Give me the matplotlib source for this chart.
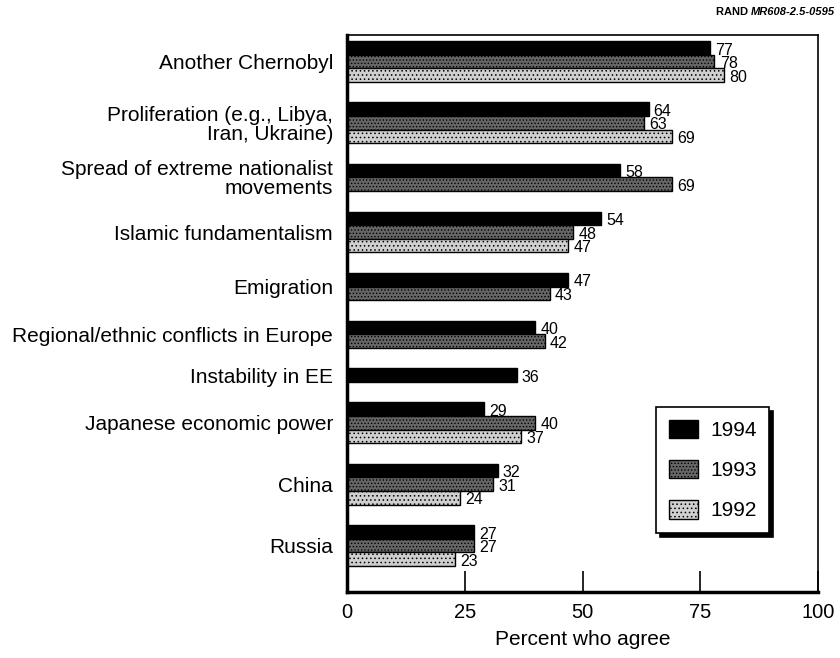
import matplotlib.pyplot as plt
from matplotlib.patches import Patch

plt.rcParams['font.family'] = ['Liberation Sans', 'DejaVu Sans']
plt.rcParams['hatch.linewidth'] = 0.6

categories = [
    'Another Chernobyl',
    'Proliferation (e.g., Libya,\nIran, Ukraine)',
    'Spread of extreme nationalist\nmovements',
    'Islamic fundamentalism',
    'Emigration',
    'Regional/ethnic conflicts in Europe',
    'Instability in EE',
    'Japanese economic power',
    'China',
    'Russia',
]
v1994 = [77, 64, 58, 54, 47, 40, 36, 29, 32, 27]
v1993 = [78, 63, 69, 48, 43, 42, None, 40, 31, 27]
v1992 = [80, 69, None, 47, None, None, None, 37, 24, 23]

years = ['1994', '1993', '1992']
series = [v1994, v1993, v1992]
faces = ['black', '#666666', '#cfcfcf']
hatches = [None, '.....', '....']

fig = plt.figure(figsize=(8.4, 6.58), dpi=100)
ax = fig.add_axes([0.413, 0.1003, 0.561, 0.8465])

gap = 1.5
pos = 0.0
centers = []
for i in range(len(categories)):
    ys = []
    for s, vals in enumerate(series):
        v = vals[i]
        if v is None:
            continue
        ax.barh(pos, v, height=1.0, color=faces[s], edgecolor='black',
                linewidth=1.0, hatch=hatches[s])
        ax.text(v + 1.1, pos + 0.15, str(v), va='center', ha='left', fontsize=11.5)
        ys.append(pos)
        pos += 1
    centers.append(sum(ys) / len(ys))
    pos += gap

ax.set_ylim(pos - gap - 0.5 + 1.9, -0.95)
ax.set_xlim(0, 100)

ax.set_yticks(centers)
ax.set_yticklabels(categories, fontsize=15, linespacing=1.0)
ax.tick_params(axis='y', length=0, pad=10)

ax.set_xticks([0, 25, 50, 75, 100])
ax.set_xticklabels(['0', '25', '50', '75', '100'], fontsize=14.5)
ax.tick_params(axis='x', direction='in', length=15, width=1.2, pad=8)
ax.set_xlabel('Percent who agree', fontsize=15, labelpad=6)

for side, lw in [('left', 2.5), ('bottom', 2.5), ('top', 1.2), ('right', 1.2)]:
    ax.spines[side].set_linewidth(lw)

handles = [Patch(facecolor=faces[s], edgecolor='black', hatch=hatches[s], label=years[s])
           for s in range(3)]
leg = ax.legend(handles=handles, loc='lower left', bbox_to_anchor=(0.656, 0.106),
                borderaxespad=0, fontsize=15, fancybox=False, edgecolor='black',
                framealpha=1, handlelength=1.4, handleheight=1.0, labelspacing=0.95,
                borderpad=0.6, handletextpad=0.6,
                shadow={'color': 'black', 'alpha': 1, 'ox': 3, 'oy': -3})
leg.get_frame().set_linewidth(1.2)

code = fig.text(0.994, 0.982, 'MR608-2.5-0595', fontsize=8, fontweight='bold',
                fontstyle='italic', ha='right', va='center')
ax.annotate('RAND ', xy=(0, 0.5), xycoords=code, fontsize=8, fontweight='bold',
            ha='right', va='center', annotation_clip=False)

fig.savefig('out.png', dpi=100)
